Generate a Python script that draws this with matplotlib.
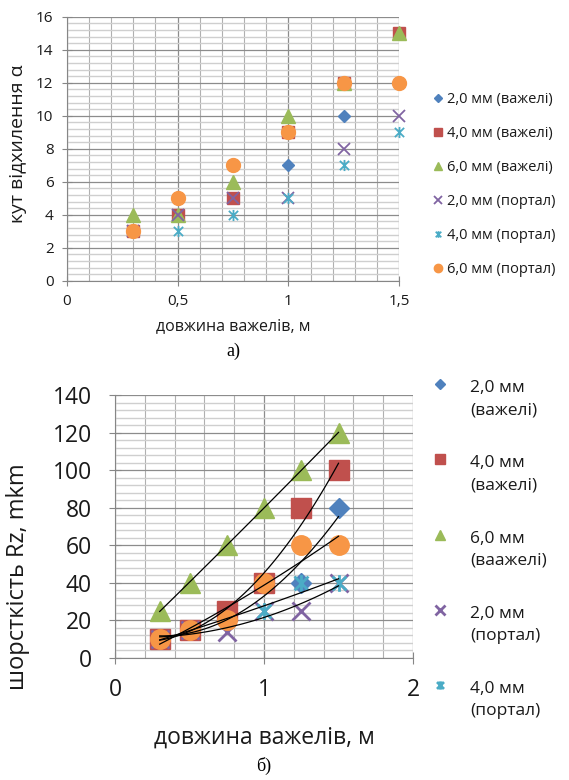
import numpy as np
import matplotlib
matplotlib.use("Agg")
import matplotlib.pyplot as plt
from matplotlib.path import Path
from matplotlib.legend_handler import HandlerLine2D
from matplotlib.ticker import MultipleLocator, FixedLocator

plt.rcParams['font.family'] = ['Open Sans', 'DejaVu Sans']

# data: top chart (кут відхилення)
length = [0.3, 0.5, 0.75, 1.0, 1.25, 1.5]
angle_2_vaz = [3, 4, 5, 7, 10, 12]
angle_4_vaz = [3, 4, 5, 9, 12, 15]
angle_6_vaz = [4, 4, 6, 10, 12, 15]
angle_2_port = [3, 4, 5, 5, 8, 10]
angle_4_port = [3, 3, 4, 5, 7, 9]
angle_6_port = [3, 5, 7, 9, 12, 12]
x_ticks_top = [0, 0.5, 1, 1.5]
x_labels_top = ["0", "0,5", "1", "1,5"]

# data: bottom chart (шорсткість Rz)
rz_2_vaz = [10, 15, 20, 40, 40, 80]
rz_4_vaz = [10, 15, 25, 40, 80, 100]
rz_6_vaz = [25, 40, 60, 80, 100, 120]
rz_2_port = [10, 15, 14, 25, 25, 40]
rz_4_port = [10, 15, 20, 25, 40, 40]
rz_6_port = [10, 15, 20, 40, 60, 60]

labels_top = ["2,0 мм (важелі)", "4,0 мм (важелі)", "6,0 мм (важелі)",
              "2,0 мм (портал)", "4,0 мм (портал)", "6,0 мм (портал)"]
labels_bot = ["2,0 мм\n(важелі)", "4,0 мм\n(важелі)", "6,0 мм\n(ваажелі)",
              "2,0 мм\n(портал)", "4,0 мм\n(портал)"]

colors = ['#4F81BD', '#C0504D', '#9BBB59', '#8064A2', '#4BACC6', '#F79646']
star = Path([(-1, -1), (1, 1), (-1, 1), (1, -1), (0, -1.2), (0, 1.2)],
            [Path.MOVETO, Path.LINETO, Path.MOVETO, Path.LINETO, Path.MOVETO, Path.LINETO])
markers = ['D', 's', '^', 'x', star, 'o']
txt = '#1a1a1a'


def style_grid(ax, xmin, ymin):
    ax.xaxis.set_minor_locator(MultipleLocator(xmin))
    ax.yaxis.set_minor_locator(MultipleLocator(ymin))
    ax.grid(which='minor', axis='y', color='#cfcfcf', lw=1.0)
    ax.grid(which='minor', axis='x', color='#b0b0b0', lw=0.8)
    ax.grid(which='major', color='#8c8c8c', lw=0.9)
    ax.set_axisbelow(True)
    for s in ['top', 'right']:
        ax.spines[s].set_visible(False)
    for s in ['left', 'bottom']:
        ax.spines[s].set_color('#868686')
    ax.tick_params(which='minor', length=0)


class UpHandler(HandlerLine2D):
    # put the legend marker next to the first line of a two-line label
    def create_artists(self, legend, orig_handle, xdescent, ydescent, width, height, fontsize, trans):
        arts = super().create_artists(legend, orig_handle, xdescent, ydescent, width, height, fontsize, trans)
        for a in arts:
            a.set_ydata(np.asarray(a.get_ydata()) + 0.85 * fontsize)
        return arts


fig = plt.figure(figsize=(5.69, 7.8), dpi=100)

# ---- top chart
ax1 = fig.add_axes([66.7 / 569, 1 - 280.7 / 780, 332.6 / 569, 264 / 780])
top_series = [angle_2_vaz, angle_4_vaz, angle_6_vaz, angle_2_port, angle_4_port, angle_6_port]
top_ms = [6.5, 9, 10, 9, 8, 10]
handles = []
for vals, c, m, ms, lab in zip(top_series, colors, markers, top_ms, labels_top):
    h, = ax1.plot(length, vals, ls='none', marker=m, ms=ms, color=c, mec=c,
                  mew=1.3 if (m == 'x' or m is star) else 1, clip_on=False, label=lab)
    handles.append(h)
ax1.set_xlim(0, 1.5)
ax1.set_ylim(0, 16)
ax1.xaxis.set_major_locator(FixedLocator(x_ticks_top))
ax1.set_xticklabels(x_labels_top)
ax1.yaxis.set_major_locator(MultipleLocator(2))
style_grid(ax1, 0.1, 0.4)
ax1.tick_params(which='major', direction='inout', length=7, color='#868686',
                labelsize=11, labelcolor=txt)
ax1.tick_params(axis='y', pad=6)
ax1.tick_params(axis='x', pad=6)
fig.text(18 / 569, 1 - 144 / 780, "кут відхилення α", rotation=90, ha='center', va='center',
         fontsize=14, color=txt)
fig.text(233 / 569, 1 - 326 / 780, "довжина важелів, м", ha='center', va='center',
         fontsize=11.5, color=txt)
fig.text(233 / 569, 1 - 351 / 780, "а)", ha='center', va='center',
         fontsize=13, family='Liberation Serif')
fig.legend(handles=handles, loc='upper left', bbox_to_anchor=(433 / 569, 1 - 92 / 780),
           frameon=False, fontsize=10.5, markerscale=0.6, handlelength=0.7,
           handletextpad=0.25, labelspacing=1.3, borderpad=0, borderaxespad=0,
           labelcolor=txt)

# ---- bottom chart
ax2 = fig.add_axes([115 / 569, 1 - 658 / 780, 298 / 569, 263 / 780])
bot_series = [rz_2_vaz, rz_4_vaz, rz_6_vaz, rz_2_port, rz_4_port, rz_6_port]
bot_ms = [10, 14, 14, 13, 12, 14]
handles2 = []
for vals, c, m, ms in zip(bot_series, colors, markers, bot_ms):
    h, = ax2.plot(length, vals, ls='none', marker=m, ms=ms, color=c, mec=c,
                  mew=2 if (m == 'x' or m is star) else 1, clip_on=False)
    handles2.append(h)
# polynomial trend lines (black)
xs = np.linspace(length[0], length[-1], 60)
for vals in bot_series:
    coef = np.polyfit(length, vals, 2)
    ax2.plot(xs, np.polyval(coef, xs), color='black', lw=0.9)
ax2.set_xlim(0, 2)
ax2.set_ylim(0, 140)
ax2.xaxis.set_major_locator(MultipleLocator(1))
ax2.yaxis.set_major_locator(MultipleLocator(20))
style_grid(ax2, 0.2, 4)
ax2.tick_params(which='major', direction='inout', length=9, color='#868686',
                labelsize=16.5, labelcolor=txt)
ax2.tick_params(axis='y', pad=12)
ax2.tick_params(axis='x', pad=10)
fig.text(18 / 569, 1 - 577 / 780, "шорсткість Rz, mkm", rotation=90, ha='center', va='center',
         fontsize=17, color=txt)
fig.text(264 / 569, 1 - 738 / 780, "довжина важелів, м", ha='center', va='center',
         fontsize=16.5, color=txt)
fig.text(264 / 569, 1 - 766 / 780, "б)", ha='center', va='center',
         fontsize=13, family='Liberation Serif')
leg2 = fig.legend(handles=handles2[:5], labels=labels_bot, loc='upper left',
                  bbox_to_anchor=(430 / 569, 1 - 380 / 780), frameon=False, fontsize=12.5,
                  markerscale=0.5, handlelength=1.2, handletextpad=1.1, labelspacing=2.15,
                  borderpad=0, borderaxespad=0, labelcolor=txt,
                  handler_map={h: UpHandler() for h in handles2[:5]})
for t in leg2.get_texts():
    t.set_linespacing(1.5)

fig.savefig("out.png", dpi=100)
